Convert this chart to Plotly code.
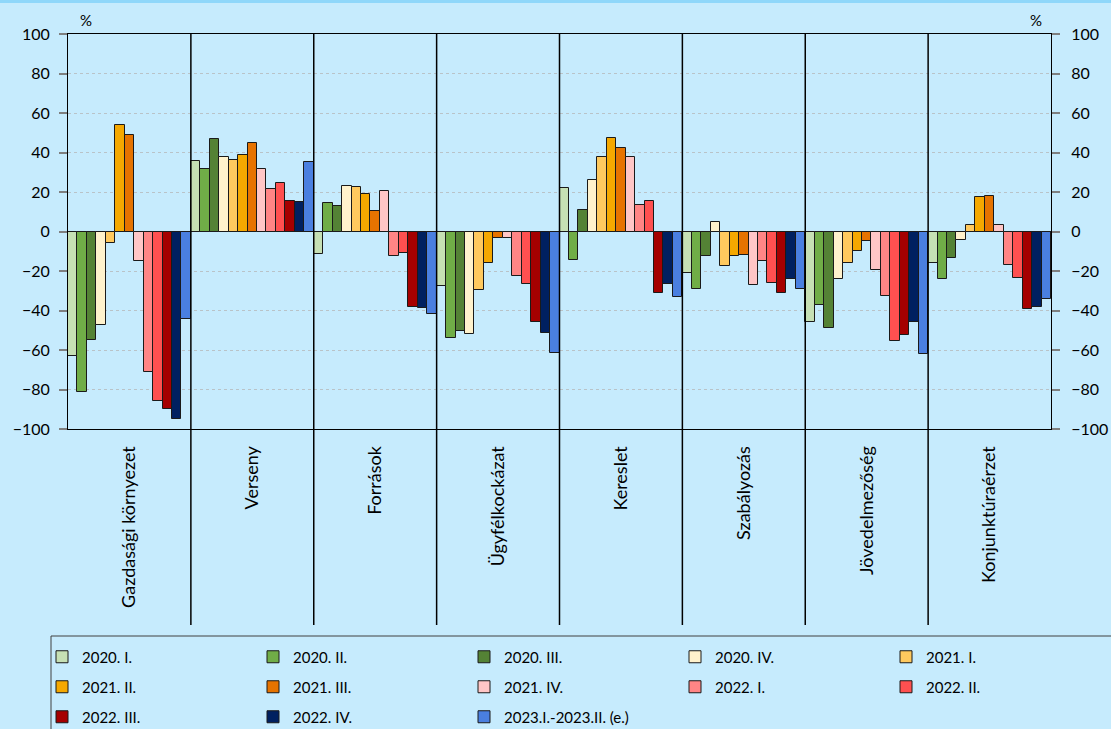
import plotly.graph_objects as go

categories = ["Gazdasági környezet", "Verseny", "Források", "Ügyfélkockázat",
              "Kereslet", "Szabályozás", "Jövedelmezőség", "Konjunktúraérzet"]

series_names = ["2020. I.", "2020. II.", "2020. III.", "2020. IV.", "2021. I.",
                "2021. II.", "2021. III.", "2021. IV.", "2022. I.", "2022. II.",
                "2022. III.", "2022. IV.", "2023.I.-2023.II. (e.)"]

s2020_1 = [-63, 35.5, -11.5, -27.5, 22, -21, -46, -16]
s2020_2 = [-81.5, 31.5, 14.5, -54, -14.5, -29, -37, -24]
s2020_3 = [-55, 47, 13, -50.5, 11, -12.5, -49, -13.5]
s2020_4 = [-47.5, 37.5, 23, -52, 26, 5, -24, -4.5]
s2021_1 = [-6, 36, 22.5, -29.5, 37.5, -17.5, -16, 3.5]
s2021_2 = [54, 38.5, 19, -16, 47.5, -12.5, -10, 17.5]
s2021_3 = [49, 45, 10.5, -3.5, 42.5, -12, -5, 18]
s2021_4 = [-15, 31.5, 20.5, -3.5, 37.5, -27, -19.5, 3.5]
s2022_1 = [-71, 21.5, -12.5, -22.5, 13.5, -15, -32.5, -17]
s2022_2 = [-86, 24.5, -11, -26.5, 15.5, -26, -55.5, -23.5]
s2022_3 = [-90, 15.5, -38, -46, -31, -31, -52.5, -39]
s2022_4 = [-95, 15, -38.5, -51.5, -26.5, -24, -46, -38]
s2023 = [-44.5, 35, -42, -61.5, -33, -29, -62, -34]

series_values = [s2020_1, s2020_2, s2020_3, s2020_4, s2021_1, s2021_2, s2021_3,
                 s2021_4, s2022_1, s2022_2, s2022_3, s2022_4, s2023]

colors = ["#c6e0b4", "#70ad47", "#548235", "#fff2cc", "#ffc95e", "#f5a800",
          "#e67300", "#ffc6c6", "#ff8585", "#ff5050", "#a50000", "#002060", "#4a7fe0"]

y_ticks = [-100, -80, -60, -40, -20, 0, 20, 40, 60, 80, 100]

W, H = 1111, 729
L, R, T, B = 68, 60, 34, 300
pw, ph = W - L - R, H - T - B


def px_x(p):
    return (p - L) / pw


def px_y(p):
    return (H - B - p) / ph


BG = "#c6ebfd"
FONT = "Lato"

fig = go.Figure()
legend_keys = ["legend", "legend2", "legend3"]
for i, (name, vals, col) in enumerate(zip(series_names, series_values, colors)):
    fig.add_trace(go.Bar(
        x=categories, y=vals, name=name,
        marker=dict(color=col, line=dict(color="#1a1a1a", width=1)),
        legend=legend_keys[i // 5],
    ))

legend_rows_px = [657, 687, 717]
legend_common = dict(orientation="h", xanchor="left", yanchor="middle",
                     x=px_x(42), bgcolor="rgba(0,0,0,0)", borderwidth=0,
                     font=dict(family=FONT, size=15, color="#000"),
                     entrywidth=166, entrywidthmode="pixels",
                     itemclick=False, itemdoubleclick=False)

fig.update_layout(
    width=W, height=H,
    margin=dict(l=L, r=R, t=T, b=B, autoexpand=False),
    paper_bgcolor=BG, plot_bgcolor=BG,
    barmode="group", bargap=0, bargroupgap=0,
    font=dict(family=FONT, size=16, color="#000"),
    showlegend=True,
    legend=dict(y=px_y(legend_rows_px[0]), **legend_common),
    legend2=dict(y=px_y(legend_rows_px[1]), **legend_common),
    legend3=dict(y=px_y(legend_rows_px[2]), **legend_common),
    xaxis=dict(type="category", range=[-0.5, len(categories) - 0.5],
               tickangle=-90, ticks="", showgrid=False,
               showline=True, linecolor="#000", linewidth=1, mirror=True,
               tickfont=dict(family=FONT, size=18, color="#000"),
               ticklabelstandoff=9),
    yaxis=dict(range=[-100, 100], tickvals=y_ticks, ticks="outside",
               ticklen=8, tickcolor="#7f7f7f", tickwidth=2,
               showgrid=True, gridcolor="#b9c3c8", griddash="dot", gridwidth=1,
               zeroline=True, zerolinecolor="#000", zerolinewidth=1,
               showline=True, linecolor="#000", linewidth=1,
               tickfont=dict(family=FONT, size=16, color="#000"),
               ticklabelstandoff=6),
    yaxis2=dict(range=[-100, 100], tickvals=y_ticks, overlaying="y", side="right",
                ticks="outside", ticklen=8, tickcolor="#7f7f7f", tickwidth=2,
                showgrid=False, zeroline=False, showline=True, linecolor="#000",
                tickfont=dict(family=FONT, size=16, color="#000"),
                ticklabelstandoff=8),
)

# invisible anchor trace so the right axis is drawn
fig.add_trace(go.Scatter(x=[categories[0]], y=[0], yaxis="y2", mode="markers",
                         marker=dict(opacity=0), showlegend=False, hoverinfo="skip"))

shapes = []
# top strip
shapes.append(dict(type="rect", xref="paper", yref="paper", x0=px_x(0), x1=px_x(W),
                   y0=px_y(3), y1=px_y(0), fillcolor="#8fd7fa", line=dict(width=0),
                   layer="below"))
# category separators
n = len(categories)
for k in range(1, n):
    xp = k / n
    shapes.append(dict(type="line", xref="paper", yref="paper", x0=xp, x1=xp,
                       y0=px_y(625), y1=1, line=dict(color="#000", width=1.5)))
# legend frame
shapes.append(dict(type="rect", xref="paper", yref="paper", x0=px_x(51), x1=px_x(W + 5),
                   y0=px_y(H + 5), y1=px_y(636), line=dict(color="#404040", width=1),
                   fillcolor="rgba(0,0,0,0)"))
fig.update_layout(shapes=shapes)

for xpx in (86, 1036):
    fig.add_annotation(text="%", xref="paper", yref="paper", x=px_x(xpx), y=px_y(20),
                       xanchor="center", yanchor="middle", showarrow=False,
                       font=dict(family=FONT, size=15, color="#000"))

fig.write_html("out.html", config={"displayModeBar": False},
               post_script="document.body.style.margin='0';document.body.style.overflow='hidden';")
